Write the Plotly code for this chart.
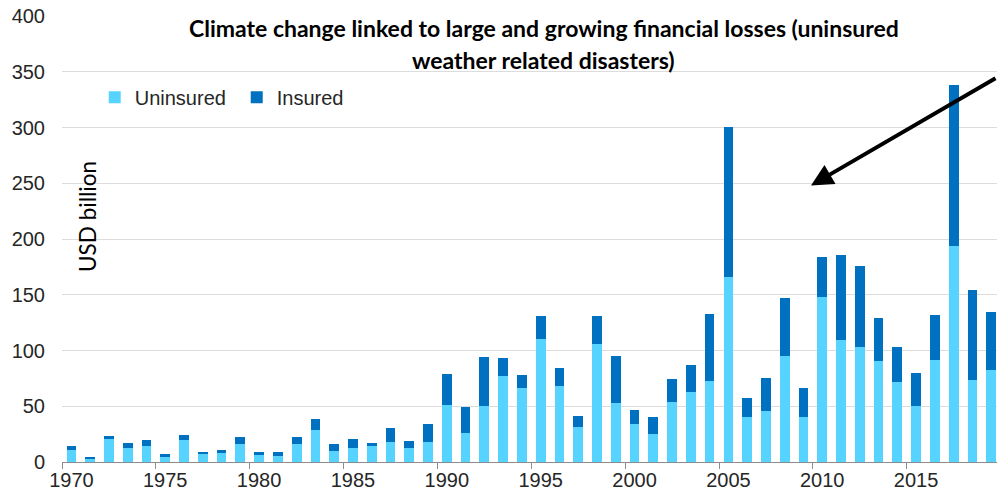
import plotly.graph_objects as go

# Annual losses from weather-related disasters, USD billion
years = list(range(1970, 2020))
uninsured = [11, 3, 21, 13, 14.6, 4.8, 19.6, 7.4, 7.7, 16,
             6.5, 5.7, 16, 28.6, 10.1, 12.8, 14.6, 18.2, 12.8, 17.6,
             51.5, 26.2, 50.6, 76.8, 66.7, 110.1, 68.2, 31.8, 105.4, 53.3,
             33.9, 24.7, 54.2, 63.1, 72.6, 165.6, 40.5, 46.1, 95.2, 40.5,
             148.2, 109.2, 102.7, 91, 71.4, 50.6, 91.4, 194, 73.8, 82.7]
insured = [3.5, 1, 2, 3.7, 5.4, 2.6, 4.2, 1.2, 3, 6.6,
           2.4, 2.9, 6.6, 10.1, 5.7, 7.7, 2.4, 12.5, 6, 16.3,
           27.4, 23.5, 43.4, 16.1, 11.3, 20.6, 15.7, 9.6, 25.3, 41.6,
           12.5, 15.8, 20.5, 23.8, 59.8, 134.9, 16.6, 29.2, 52.1, 25.6,
           35.7, 76.5, 73.1, 38.5, 31.3, 28.9, 40.1, 144.4, 80.4, 51.8]

tick_years = [1970, 1975, 1980, 1985, 1990, 1995, 2000, 2005, 2010, 2015]
y_ticks = [0, 50, 100, 150, 200, 250, 300, 350, 400]

title_line1 = "Climate change linked to large and growing financial losses (uninsured"
title_line2 = "weather related disasters)"

LIGHT = "#56D3FF"
DARK = "#0070C0"
TEXT = "#262626"
SANS = "Liberation Sans, Arial, sans-serif"
TITLE_FONT = "Lato, Carlito, Calibri, sans-serif"

fig = go.Figure()
fig.add_trace(go.Bar(x=years, y=uninsured, name="Uninsured",
                     marker=dict(color=LIGHT, line=dict(width=0)), width=0.52))
fig.add_trace(go.Bar(x=years, y=insured, name="Insured",
                     marker=dict(color=DARK, line=dict(width=0)), width=0.52))

fig.update_layout(
    barmode="stack",
    width=997, height=496,
    margin=dict(l=62, r=0, t=16, b=34),
    plot_bgcolor="white", paper_bgcolor="white",
    font=dict(family=SANS, size=20, color=TEXT),
    showlegend=True,
    legend=dict(orientation="h", x=0.035, y=0.818, xanchor="left", yanchor="middle",
                traceorder="normal",
                font=dict(family=SANS, size=20, color=TEXT),
                bgcolor="rgba(0,0,0,0)", entrywidth=97, entrywidthmode="pixels",
                itemclick=False),
    xaxis=dict(range=[1969.5, 2019.31], tickmode="array", tickvals=tick_years,
               ticks="", showgrid=False, showline=True, linecolor="#8c8c8c",
               linewidth=1, zeroline=False,
               tickfont=dict(family=SANS, size=20, color=TEXT),
               minor=dict(ticks="outside", ticklen=6, tickcolor="#8c8c8c",
                          tick0=1969.5, dtick=5, showgrid=False)),
    yaxis=dict(range=[0, 400], tickmode="array", tickvals=y_ticks,
               showgrid=True, gridcolor="#dcdcdc", gridwidth=1, zeroline=False,
               showline=False, ticks="", ticklabelstandoff=16,
               tickfont=dict(family=SANS, size=20, color=TEXT)),
)

# white panel behind the title, over the gridlines but under the bars
fig.add_shape(type="rect", xref="paper", yref="y", x0=0.1016, x1=0.9316,
              y0=343, y1=402, fillcolor="white", line=dict(width=0), layer="between")

fig.add_annotation(text="<b>" + title_line1 + "</b>", xref="paper", yref="paper",
                   x=0.5155, y=0.973, showarrow=False, xanchor="center", yanchor="middle",
                   font=dict(family=TITLE_FONT, size=23, color="black"))
fig.add_annotation(text="<b>" + title_line2 + "</b>", xref="paper", yref="paper",
                   x=0.5155, y=0.901, showarrow=False, xanchor="center", yanchor="middle",
                   font=dict(family=TITLE_FONT, size=23, color="black"))

fig.add_annotation(text="USD billion", xref="paper", yref="paper", x=0.0278, y=0.5516,
                   textangle=-90, showarrow=False, xanchor="center", yanchor="middle",
                   font=dict(family=TITLE_FONT, size=22.5, color="black"))

# arrow pointing into the 2010s cluster
fig.add_annotation(text="", x=2009.4, y=248, xref="x", yref="y",
                   showarrow=True, arrowhead=2, arrowsize=1.1, arrowwidth=4,
                   arrowcolor="black", ax=200, ay=-108, standoff=0)

fig.write_html("out.html")
